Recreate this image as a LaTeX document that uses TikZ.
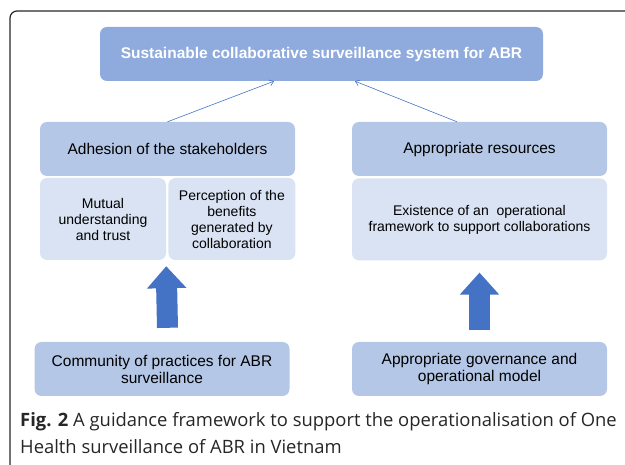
\documentclass[tikz,border=0pt]{standalone}
\usepackage{fontspec}
\setmainfont{Liberation Sans}
\newfontfamily\capfont{Open Sans}
\usetikzlibrary{arrows.meta, positioning}

\definecolor{boxdark}{HTML}{8FAADC}
\definecolor{boxmid}{HTML}{B4C7E7}
\definecolor{boxlight}{HTML}{DAE3F3}
\definecolor{arrowblue}{HTML}{4472C4}

\begin{document}
\begin{tikzpicture}[x=1pt, y=-1pt]
        \tikzstyle{topblock} = [rectangle, fill=boxdark, text=white, rounded corners=7pt,
            minimum width=443pt, minimum height=54pt, inner sep=0pt,
            font=\bfseries\fontsize{15.5}{17}\selectfont]
        \tikzstyle{head} = [rectangle, fill=boxmid, rounded corners=7pt, align=center,
            minimum width=255pt, minimum height=54pt, inner sep=0pt,
            font=\fontsize{15.5}{17}\selectfont]
        \tikzstyle{sub} = [rectangle, fill=boxlight, rounded corners=7pt, align=center,
            minimum height=82pt, inner sep=0pt, font=\fontsize{14}{16}\selectfont]
        \tikzstyle{line} = [draw=arrowblue, line width=0.6pt, -{Straight Barb[length=4pt, width=6pt]}]
        \tikzstyle{blockarrow} = [draw=arrowblue, line width=21pt,
            -{Triangle[length=22pt, width=38pt]}]

        \useasboundingbox (0,0) rectangle (625,465);
        % outer frame
        \draw [line width=1.2pt, rounded corners=7pt, black!85] (10,468) -- (10,11) -- (628,11);

        \node [topblock] (system) at (321.5,54) {Sustainable collaborative surveillance system for ABR};

        \node [head] (adhesion) at (167.5,149) {Adhesion of the stakeholders};
        \node [sub, minimum width=126pt] (trust) at (103,219) {Mutual\\understanding\\and trust};
        \node [sub, minimum width=127pt, right=2pt of trust] (benefits) {Perception of the\\benefits\\generated by\\collaboration};

        \node [head] (resources) at (479.5,149) {Appropriate resources};
        \node [sub, minimum width=255pt, below=2pt of resources] (framework) {Existence of an\ \ operational\\framework to support collaborations};

        \node [head] (community) at (162,369) {Community of practices for ABR\\surveillance};
        \node [head] (governance) at (479.5,369) {Appropriate governance and\\operational model};

        \path [line] (adhesion.north) -- ([xshift=-47.5pt]system.south);
        \path [line] ([xshift=-22.5pt]resources.north) -- ([xshift=33.5pt]system.south);

        \path [blockarrow] ([xshift=5.5pt, yshift=14pt]community.north) -- ([yshift=-6pt]trust.south east);
        \path [blockarrow] ([yshift=12pt]governance.north) -- ([yshift=-12pt]framework.south);

        \node [anchor=base west, align=left, inner sep=0pt, text=black!85,
            font=\capfont\fontsize{18.4}{27}\selectfont] (caption) at (20,454)
            {\textbf{Fig. 2} A guidance framework to support the operationalisation of One\\Health surveillance of ABR in Vietnam};
    \end{tikzpicture}
\end{document}
